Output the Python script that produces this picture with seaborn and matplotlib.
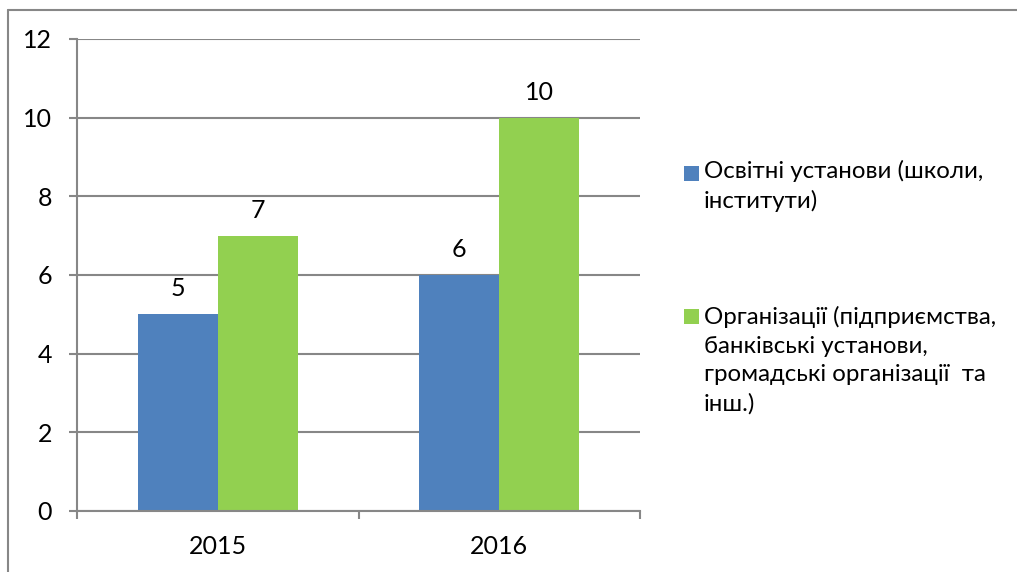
import matplotlib
matplotlib.use("Agg")
import matplotlib.pyplot as plt
from matplotlib.lines import Line2D
from matplotlib.patches import Rectangle
import seaborn as sns
import pandas as pd

years = ["2015", "2016"]
edu = [5, 6]
org = [7, 10]
series = ["Освітні установи (школи,\nінститути)",
          "Організації (підприємства,\nбанківські установи,\nгромадські організації  та\nінш.)"]
colors = ["#4F81BD", "#92D050"]
yticks = [0, 2, 4, 6, 8, 10, 12]

sns.set_theme(style="white")
plt.rcParams['font.family'] = ['Lato', 'Open Sans', 'DejaVu Sans']

df = pd.DataFrame({
    "year": years * 2,
    "value": edu + org,
    "series": [series[0]] * len(years) + [series[1]] * len(years),
})

FS = 18
LFS = 17.3
W, H = 1017, 572
fig = plt.figure(figsize=(W / 100, H / 100), dpi=100)
ax = fig.add_axes([77 / W, 1 - 511 / H, (640 - 77) / W, (511 - 39) / H])

sns.barplot(data=df, x="year", y="value", hue="series", hue_order=series,
            palette=colors, saturation=1, width=0.568, gap=0, dodge=True,
            legend=False, ax=ax, linewidth=0)

for c in ax.containers:
    ax.bar_label(c, padding=10, fontsize=FS, color="black")

gray = "#878787"
ax.set_ylim(0, 12)
ax.set_xlim(-0.5, 1.5)
ax.set_yticks(yticks)
ax.set_yticklabels([str(v) for v in yticks])
ax.yaxis.grid(True, color=gray, linewidth=1.5)
ax.set_axisbelow(True)
ax.set_xlabel("")
ax.set_ylabel("")
for s in ["top", "right"]:
    ax.spines[s].set_visible(False)
for s in ["left", "bottom"]:
    ax.spines[s].set_color(gray)
    ax.spines[s].set_linewidth(1.5)

ax.tick_params(axis="y", which="major", left=True, length=6, width=1.5,
               color=gray, pad=12, labelsize=FS, labelcolor="black")
ax.set_xticks([-0.5, 0.5, 1.5], minor=True)
ax.tick_params(axis="x", which="minor", bottom=True, length=6, width=1.5,
               color=gray)
ax.tick_params(axis="x", which="major", bottom=False, pad=11, labelsize=FS,
               labelcolor="black")

# outer chart frame (clipped by the image edge)
fig.add_artist(Line2D([8 / W, 8 / W], [-0.1, 1 - 10 / H], transform=fig.transFigure,
                      color=gray, linewidth=1.5))
fig.add_artist(Line2D([8 / W, 1.1], [1 - 10 / H, 1 - 10 / H], transform=fig.transFigure,
                      color=gray, linewidth=1.5))

# legend
leg_tops = [160, 306]
sq_centers = [173.5, 316.5]
for lab, col, top, sc in zip(series, colors, leg_tops, sq_centers):
    fig.add_artist(Rectangle((684 / W, 1 - (sc + 7.5) / H), 15 / W, 15 / H,
                             transform=fig.transFigure, facecolor=col,
                             edgecolor="none"))
    fig.text(704 / W, 1 - top / H, lab, ha="left", va="top", fontsize=LFS,
             linespacing=1.445, color="black")

fig.savefig("out.png", dpi=100)
